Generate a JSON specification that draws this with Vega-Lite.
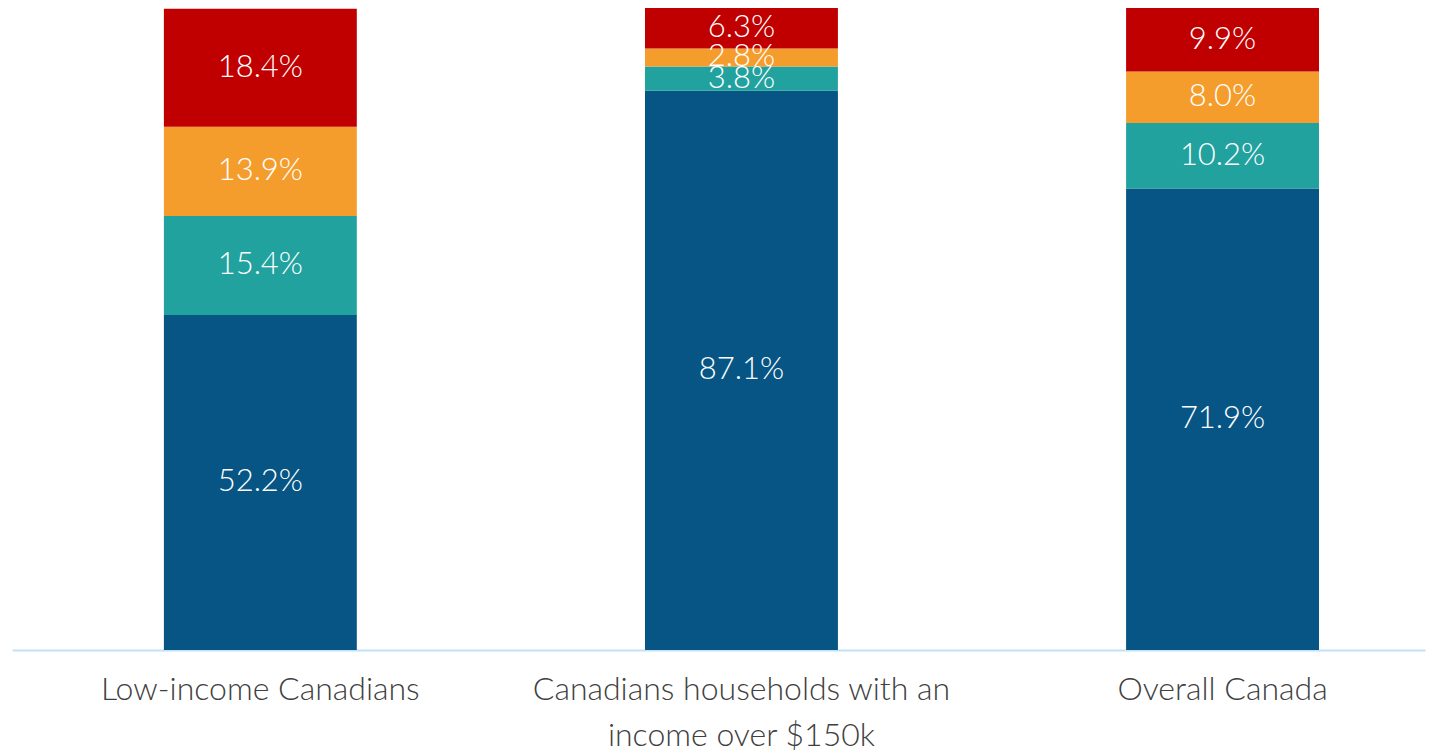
{
  "$schema": "https://vega.github.io/schema/vega-lite/v6.json",
  "width": 1413,
  "height": 642,
  "autosize": "none",
  "padding": {"left": 12, "top": 8, "right": 13, "bottom": 101},
  "background": "white",
  "config": {"view": {"stroke": null}, "font": "Lato"},
  "data": {
    "values": [
      {"group": "Low-income Canadians", "segment": "A", "order": 1, "value": 52.2},
      {"group": "Low-income Canadians", "segment": "B", "order": 2, "value": 15.4},
      {"group": "Low-income Canadians", "segment": "C", "order": 3, "value": 13.9},
      {"group": "Low-income Canadians", "segment": "D", "order": 4, "value": 18.4},
      {"group": "Canadians households with an|income over $150k", "segment": "A", "order": 1, "value": 87.1},
      {"group": "Canadians households with an|income over $150k", "segment": "B", "order": 2, "value": 3.8},
      {"group": "Canadians households with an|income over $150k", "segment": "C", "order": 3, "value": 2.8},
      {"group": "Canadians households with an|income over $150k", "segment": "D", "order": 4, "value": 6.3},
      {"group": "Overall Canada", "segment": "A", "order": 1, "value": 71.9},
      {"group": "Overall Canada", "segment": "B", "order": 2, "value": 10.2},
      {"group": "Overall Canada", "segment": "C", "order": 3, "value": 8.0},
      {"group": "Overall Canada", "segment": "D", "order": 4, "value": 9.9}
    ]
  },
  "encoding": {
    "x": {
      "field": "group",
      "type": "nominal",
      "sort": null,
      "scale": {"paddingInner": 0.599, "paddingOuter": 0.268, "align": 0.589},
      "axis": {
        "title": null,
        "labelAngle": 0,
        "labelExpr": "split(datum.label, '|')",
        "labelFont": "Lato",
        "labelFontSize": 32,
        "labelFontWeight": 300,
        "labelColor": "#404040",
        "labelLimit": 0,
        "labelPadding": 24,
        "labelLineHeight": 46,
        "labelBaseline": "top",
        "ticks": false,
        "domainColor": "#c2e2f7",
        "domainWidth": 2
      }
    }
  },
  "layer": [
    {
      "mark": {"type": "bar"},
      "encoding": {
        "y": {"field": "value", "type": "quantitative", "stack": "zero", "scale": {"domain": [0, 100], "nice": false}, "axis": null},
        "color": {
          "field": "segment",
          "type": "nominal",
          "scale": {"domain": ["A", "B", "C", "D"], "range": ["#065584", "#21a29f", "#f59d2c", "#c00000"]},
          "legend": null
        },
        "order": {"field": "order", "type": "quantitative"}
      }
    },
    {
      "transform": [{"calculate": "format(datum.value, '.1f') + '%'", "as": "label"}],
      "mark": {"type": "text", "color": "white", "fontSize": 31, "fontWeight": 300, "font": "Lato", "baseline": "middle", "align": "center"},
      "encoding": {
        "y": {"field": "value", "type": "quantitative", "stack": "zero", "bandPosition": 0.5},
        "detail": {"field": "segment", "type": "nominal"},
        "order": {"field": "order", "type": "quantitative"},
        "text": {"field": "label", "type": "nominal"}
      }
    }
  ]
}
